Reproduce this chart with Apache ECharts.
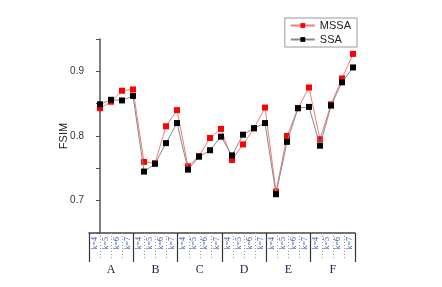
<!DOCTYPE html>
<html><head><meta charset="utf-8">
<script src="https://cdn.jsdelivr.net/npm/echarts@6/dist/echarts.min.js"></script>
<style>html,body{margin:0;padding:0;background:#fff}#c{width:442px;height:287px}</style>
</head><body><div id="c"></div>
<script>
const groups = ['A','B','C','D','E','F'];
const kLabels = ['k=4','k=5','k=6','k=7'];
const mssa = [0.843,0.853,0.870,0.872, 0.760,0.758,0.815,0.840, 0.753,0.769,0.797,0.811, 0.763,0.787,0.812,0.844, 0.714,0.800,0.843,0.875, 0.795,0.849,0.889,0.927];
const ssa  = [0.849,0.856,0.855,0.862, 0.745,0.757,0.789,0.820, 0.748,0.768,0.778,0.799, 0.770,0.802,0.812,0.820, 0.710,0.791,0.843,0.845, 0.785,0.847,0.883,0.906];

const kCats = [];
groups.forEach(g => kLabels.forEach(k => kCats.push(g + k)));
const toPts = arr => arr.map((v, i) => [i, v]);

const chart = echarts.init(document.getElementById('c'));
chart.setOption({
  animation: false,
  grid: {left: 89, right: 87, top: 39, bottom: 54},
  legend: {
    right: 85, top: 18, orient: 'vertical',
    itemWidth: 24, itemHeight: 6, itemGap: 3,
    padding: [2, 6, 2, 5],
    borderColor: '#999', borderWidth: 1,
    textStyle: {fontFamily: 'Liberation Sans', fontSize: 11, color: '#222'},
    data: ['MSSA', 'SSA']
  },
  xAxis: [
    {type: 'value', min: -1, max: 255/11, show: false},
    {type: 'category', data: kCats, position: 'bottom', boundaryGap: true,
     axisLine: {show: true, lineStyle: {color: '#444', width: 1.5}},
     axisTick: {show: true, interval: 0, length: 26, lineStyle: {color: '#999', type: [1, 2], width: 1}},
     axisLabel: {interval: 0, rotate: 90, margin: 4, fontSize: 8, color: '#3050a0',
                 fontFamily: 'Liberation Serif', formatter: v => v.slice(1)}},
    {type: 'category', data: groups, position: 'bottom', boundaryGap: true,
     axisLine: {show: false},
     axisTick: {show: true, length: 29, lineStyle: {color: '#333', width: 1.2}},
     axisLabel: {margin: 31, fontSize: 12, color: '#1a2050', fontFamily: 'Liberation Serif'}}
  ],
  yAxis: {
    type: 'value', min: 0.65, max: 0.95, interval: 0.05,
    name: 'FSIM', nameLocation: 'middle', nameGap: 20, nameMoveOverlap: false,
    nameTextStyle: {fontFamily: 'Liberation Sans', fontSize: 11, color: '#222'},
    axisLine: {show: true, lineStyle: {color: '#555', width: 1.5}},
    axisTick: {show: true, length: 4, lineStyle: {color: '#555'}},
    splitLine: {show: false},
    axisLabel: {fontFamily: 'Liberation Sans', fontSize: 10, color: '#333', margin: 5,
      formatter: v => {const r = Math.round(v * 100); return r % 10 === 0 ? (v.toFixed(1)) : '';}}
  },
  series: [
    {name: 'SSA', type: 'line', xAxisIndex: 0, data: toPts(ssa), symbol: 'rect', symbolSize: 6,
     itemStyle: {color: '#000'}, lineStyle: {color: '#888', width: 1}, z: 2},
    {name: 'MSSA', type: 'line', xAxisIndex: 0, data: toPts(mssa), symbol: 'rect', symbolSize: 6,
     itemStyle: {color: '#ff0000'}, lineStyle: {color: '#f27a7a', width: 1}, z: 1}
  ]
});
</script></body></html>
